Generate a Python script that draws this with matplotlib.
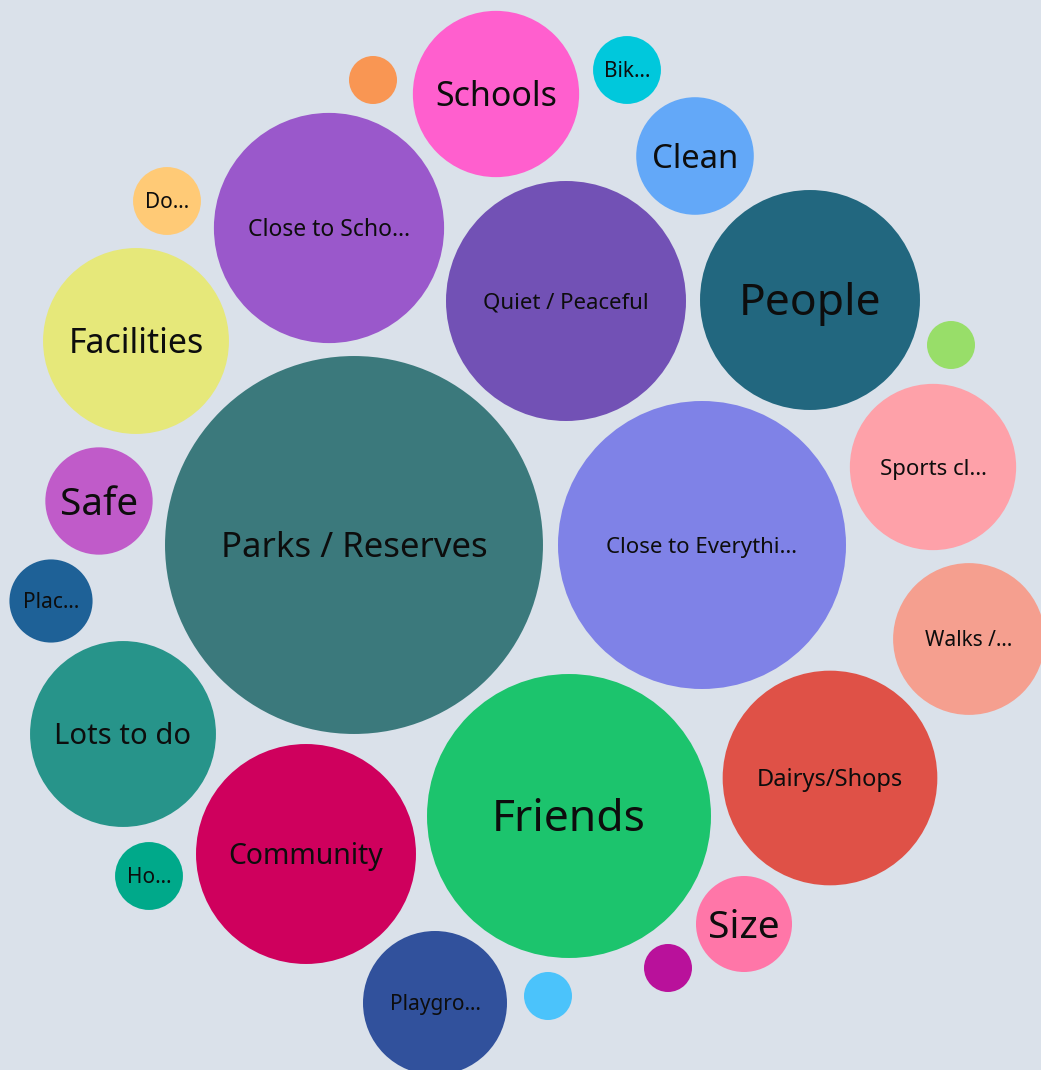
import numpy as np
import matplotlib
matplotlib.use("Agg")
import matplotlib.pyplot as plt
from matplotlib.patches import Circle

# ---------------- data ----------------
labels = ["Parks / Reserves", "Close to Everythi…", "Friends", "Quiet / Peaceful",
          "Close to Scho…", "People", "Community", "Dairys/Shops", "Facilities",
          "Lots to do", "Sports cl…", "Schools", "Walks /…", "Playgro…", "Clean",
          "Safe", "Size", "Plac…", "Ho…", "Do…", "Bik…", "", "", "", ""]
values = [62, 36, 35, 25, 23, 21, 21, 20, 15, 15, 12, 12, 10, 9, 6, 5, 4, 3,
          2, 2, 2, 1, 1, 1, 1]

# ---------------- styles ----------------
colors = ["#3b797c", "#7f82e7", "#1cc46d", "#7251b5", "#9a58cb", "#22677f",
          "#cf005d", "#df5147", "#e6e87a", "#27948a", "#fea1a9", "#ff5fce",
          "#f59f8f", "#31519c", "#63a8f8", "#c05bc9", "#ff76a8", "#1e6197",
          "#00a98a", "#ffca76", "#00c8dc", "#f99653", "#98de69", "#4bc3fb",
          "#b9119b"]
font_sizes = [25, 16, 32, 16, 16.5, 32, 20.4, 17, 24.4, 21, 16, 24.4, 15, 15,
              23.7, 27.8, 28, 15, 15, 15, 15, 0, 0, 0, 0]

# layout hints (seed centres for the packing relaxation)
seed_x = [354, 702, 569, 566, 329, 810, 306, 830, 136, 123, 933, 496, 969,
          435, 695, 99, 744, 51, 149, 167, 627, 373, 951, 548, 668]
seed_y = [545, 545, 816, 301, 228, 300, 854, 778, 341, 734, 467, 94, 639,
          1003, 156, 501, 924, 601, 876, 201, 70, 80, 345, 996, 968]

W, H = 1041, 1070
K = 24.0  # radius scale: r = K * sqrt(value)

r = K * np.sqrt(np.array(values, dtype=float))
pos = np.column_stack([seed_x, seed_y]).astype(float)

# simple collision relaxation (keeps circles from overlapping)
pad = 2.0
for _ in range(200):
    moved = False
    for i in range(len(r)):
        for j in range(i + 1, len(r)):
            d = pos[j] - pos[i]
            dist = np.hypot(*d)
            need = r[i] + r[j] + pad
            if dist < need and dist > 0:
                push = (need - dist) / 2 * d / dist
                pos[i] -= push
                pos[j] += push
                moved = True
    if not moved:
        break

fig = plt.figure(figsize=(W / 100, H / 100), dpi=100)
bg = "#dae1ea"
fig.patch.set_facecolor(bg)
ax = fig.add_axes([0, 0, 1, 1])
ax.set_facecolor(bg)
ax.set_xlim(0, W)
ax.set_ylim(H, 0)
ax.set_aspect("equal")
ax.axis("off")

for i in range(len(r)):
    ax.add_patch(Circle((pos[i, 0], pos[i, 1]), r[i], facecolor=colors[i],
                        edgecolor="none", antialiased=True))
    if labels[i]:
        fs = font_sizes[i]
        ax.text(pos[i, 0], pos[i, 1] + 0.13 * fs, labels[i], ha="center",
                va="center", fontsize=fs, color="#0d0d0d",
                family=["Noto Sans", "DejaVu Sans"])

fig.savefig("out.png", dpi=100, facecolor=bg)
